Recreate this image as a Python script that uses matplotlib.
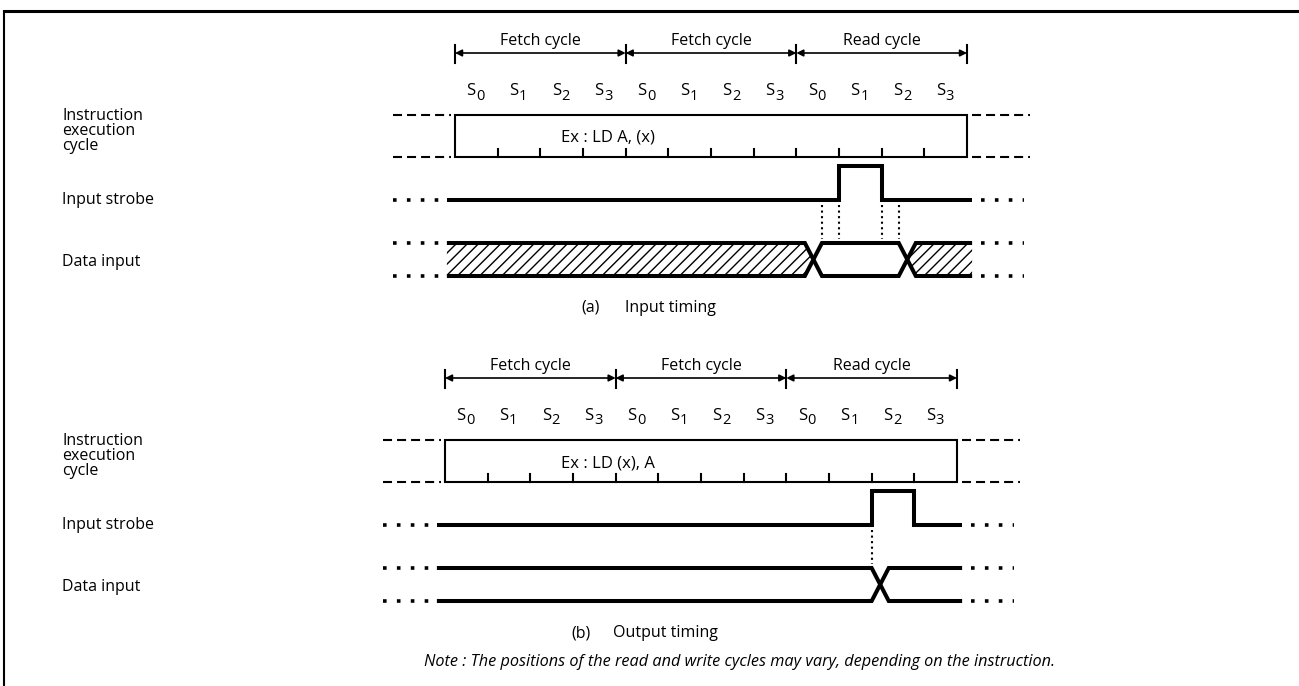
import matplotlib
matplotlib.use("Agg")
import matplotlib.pyplot as plt
from matplotlib.patches import Polygon, Rectangle

plt.rcParams['font.family'] = ['Open Sans', 'DejaVu Sans']
plt.rcParams['lines.scale_dashes'] = False
plt.rcParams['hatch.linewidth'] = 1.0

# ---------------- data ----------------
cycle_names = ["Fetch cycle", "Fetch cycle", "Read cycle"]
state_digits = ["0", "1", "2", "3"]
signal_names = ["Instruction\nexecution\ncycle", "Input strobe", "Data input"]
panel_tags = ["(a)", "(b)"]
panel_titles = ["Input timing", "Output timing"]
instr_examples = ["Ex : LD A, (x)", "Ex : LD (x), A"]
strobe_pulses = [(9, 10), (10, 11)]                 # strobe high interval (states)
data_crossings = [[8.4, 10.6], [10.2]]              # data transition centres (states)
data_hatched = [[True, False, True], [False, False]]  # invalid (hatched) segments
guide_marks = [[8.6, 9.0, 10.0, 10.4], [10.0]]      # dotted guide lines (states)
note_text = ("Note : The positions of the read and write cycles may vary, "
             "depending on the instruction.")

# ---------------- layout ----------------
W_PX, H_PX = 1299, 686
N_STATES = len(cycle_names) * len(state_digits)
PX_PER_STATE = 512 / N_STATES
panel_x0 = [455, 445]
panel_dy = [0, 325]
caption_tag_x = [581, 571]
caption_title_x = [625, 613]

Y_CYC_LABEL, Y_BRACKET, Y_BAR0, Y_BAR1 = 41, 53, 45, 63
Y_STATE = 91
Y_BOX_TOP, Y_BOX_BOT, TICK_H = 115, 157, 8
Y_STB_HI, Y_STB_LO = 166, 200
Y_DOT0, Y_DOT1 = 205, 239
Y_DAT_TOP, Y_DAT_BOT = 243, 276
Y_CAPTION = 308
SIG_L, SIG_R = -0.19, 12.12
HALF = 0.2

FS = 11.5
lw_sig = 2.9
lw_box = 1.5

fig = plt.figure(figsize=(W_PX / 100, H_PX / 100), dpi=100)
base = fig.add_axes([0, 0, 1, 1])
base.set_xlim(0, W_PX)
base.set_ylim(H_PX, 0)
base.axis('off')
base.plot([4, W_PX], [10.5, 10.5], color='black', lw=2.2, solid_capstyle='butt')
base.plot([4.5, 4.5], [10, H_PX], color='black', lw=1.5, solid_capstyle='butt')
base.text(740, 662, note_text, ha='center', va='center', fontsize=11.7,
          style='italic')

for p in range(2):
    x0, dy = panel_x0[p], panel_dy[p]
    ax = fig.add_axes([0, 0, 1, 1])
    ax.set_xlim(-x0 / PX_PER_STATE, (W_PX - x0) / PX_PER_STATE)
    ax.set_ylim(H_PX - dy, -dy)
    ax.axis('off')
    ax.patch.set_visible(False)

    def px(xp):
        return (xp - x0) / PX_PER_STATE

    # cycle brackets
    ncyc = len(cycle_names)
    spc = len(state_digits)
    for i, name in enumerate(cycle_names):
        a, b = i * spc, (i + 1) * spc
        ax.annotate('', xy=(a, Y_BRACKET), xytext=(b, Y_BRACKET),
                    arrowprops=dict(arrowstyle='<|-|>', color='black', lw=1.2,
                                    mutation_scale=10, shrinkA=0, shrinkB=0))
        ax.text((a + b) / 2, Y_CYC_LABEL, name, ha='center', va='center', fontsize=FS)
    for i in range(ncyc + 1):
        ax.plot([i * spc, i * spc], [Y_BAR0, Y_BAR1], color='black', lw=1.5)

    # state labels
    for k in range(N_STATES):
        c = k + 0.5
        ax.text(c - 0.02, Y_STATE, "S", ha='right', va='center', fontsize=FS + 0.5)
        ax.text(c + 0.0, Y_STATE + 5, state_digits[k % spc], ha='left', va='center',
                fontsize=FS - 1)

    # instruction execution cycle box
    ax.add_patch(Rectangle((0, Y_BOX_TOP), N_STATES, Y_BOX_BOT - Y_BOX_TOP,
                           fill=False, edgecolor='black', lw=lw_box))
    for k in range(1, N_STATES):
        ax.plot([k, k], [Y_BOX_BOT, Y_BOX_BOT - TICK_H], color='black', lw=lw_box)
    for y in (Y_BOX_TOP, Y_BOX_BOT):
        ax.plot([px(393 + (x0 - 455)), -0.1], [y, y], color='black', lw=1.5,
                dashes=(6.5, 3.6), dash_capstyle='butt')
        ax.plot([N_STATES + 0.12, px(1030 + (x0 - 455))], [y, y], color='black', lw=1.5,
                dashes=(6.5, 3.6), dash_capstyle='butt')
    ax.text(px(561), 138, instr_examples[p], ha='left', va='center', fontsize=12)

    # dotted continuation marks
    def dots(y):
        ax.plot([px(393 + (x0 - 455)), px(441 + (x0 - 455))], [y, y], color='black',
                lw=2.6, dashes=(2.6, 7.4), dash_capstyle='butt')
        ax.plot([SIG_R + 0.2, px(1024 + (x0 - 455))], [y, y], color='black',
                lw=2.6, dashes=(2.6, 7.4), dash_capstyle='butt')

    # input strobe
    s0, s1 = strobe_pulses[p]
    ax.plot([SIG_L, s0, s0, s1, s1, SIG_R],
            [Y_STB_LO, Y_STB_LO, Y_STB_HI, Y_STB_HI, Y_STB_LO, Y_STB_LO],
            color='black', lw=lw_sig, solid_joinstyle='miter', solid_capstyle='butt')
    dots(Y_STB_LO)

    # guide lines
    for g in guide_marks[p]:
        ax.plot([g, g], [Y_DOT0, Y_DOT1], color='black', lw=1.5, dashes=(1.5, 2.5),
                dash_capstyle='butt')

    # data input
    cr = data_crossings[p]
    ymid = (Y_DAT_TOP + Y_DAT_BOT) / 2
    for start in (Y_DAT_TOP, Y_DAT_BOT):
        xs, ys = [SIG_L], [start]
        lvl = start
        for c in cr:
            other = Y_DAT_BOT if lvl == Y_DAT_TOP else Y_DAT_TOP
            xs += [c - HALF, c + HALF]
            ys += [lvl, other]
            lvl = other
        xs.append(SIG_R)
        ys.append(lvl)
        ax.plot(xs, ys, color='black', lw=lw_sig, solid_joinstyle='miter',
                solid_capstyle='butt')
    bounds = [None] + cr + [None]
    for j, hatched in enumerate(data_hatched[p]):
        if not hatched:
            continue
        cl, crr = bounds[j], bounds[j + 1]
        top, bot = [], []
        if cl is None:
            top.append((SIG_L, Y_DAT_TOP)); bot.append((SIG_L, Y_DAT_BOT))
        else:
            top += [(cl, ymid), (cl + HALF, Y_DAT_TOP)]; bot.append((cl + HALF, Y_DAT_BOT))
        if crr is None:
            top.append((SIG_R, Y_DAT_TOP)); bot.insert(0, (SIG_R, Y_DAT_BOT))
        else:
            top += [(crr - HALF, Y_DAT_TOP), (crr, ymid)]; bot.insert(0, (crr - HALF, Y_DAT_BOT))
        poly = top + bot
        ax.add_patch(Polygon(poly, closed=True, facecolor='none', edgecolor='black',
                             lw=0, hatch='///'))
    dots(Y_DAT_TOP)
    dots(Y_DAT_BOT)

    # signal names
    lx = px(62)
    ax.text(lx, 131, signal_names[0], ha='left', va='center', fontsize=FS,
            linespacing=0.95)
    ax.text(lx, 200, signal_names[1], ha='left', va='center', fontsize=FS)
    ax.text(lx, 262, signal_names[2], ha='left', va='center', fontsize=FS)

    # caption
    ax.text(px(caption_tag_x[p]), Y_CAPTION, panel_tags[p], ha='left', va='center',
            fontsize=FS)
    ax.text(px(caption_title_x[p]), Y_CAPTION, panel_titles[p], ha='left', va='center',
            fontsize=FS)

fig.savefig("out.png", dpi=100)
